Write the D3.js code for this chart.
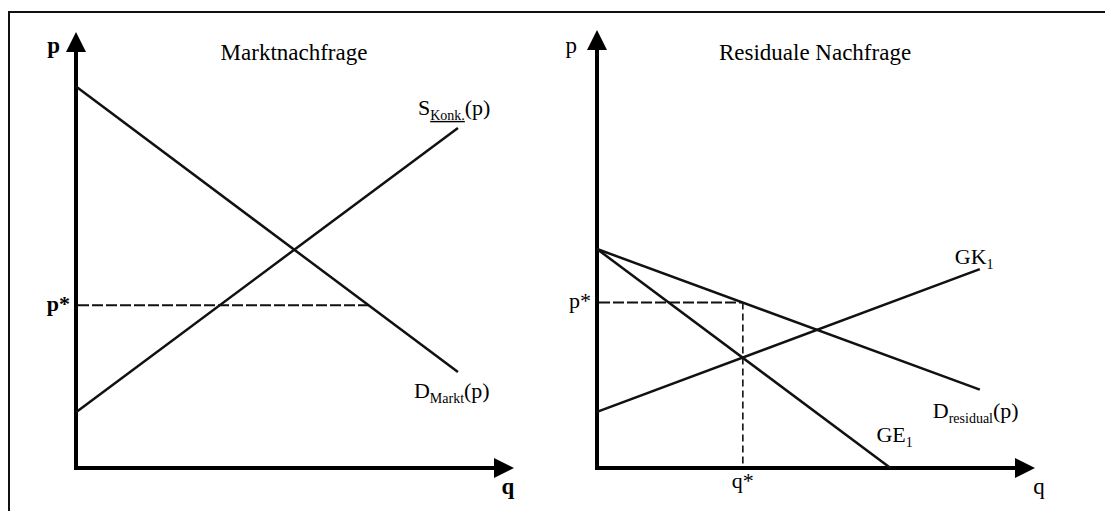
<!DOCTYPE html>
<html>
<head>
<meta charset="utf-8">
<script src="https://cdn.jsdelivr.net/npm/d3@7"></script>
<style>
  html, body { margin: 0; padding: 0; background: #fff; }
  svg { display: block; font-family: "Liberation Serif", "Times New Roman", serif; }
</style>
</head>
<body>
<div id="chart"></div>
<script>
// both panels use axis units 0..10 (q to the right, p upwards)
const marketDemand = [[0, 8.75], [8.72, 2.2]];
const competitorSupply = [[0, 1.28], [8.72, 7.8]];
const marketPStar = 3.73;

const residualDemand = [[0, 5.0], [8.74, 1.79]];
const marginalRevenue = [[0, 5.0], [6.7, 0]];
const marginalCost = [[0, 1.28], [8.74, 4.54]];
const residualQStar = 3.33;
const residualPStar = 3.78;

const titles = ['Marktnachfrage', 'Residuale Nachfrage'];

const width = 1105, height = 511;
const ink = '#111';

const svg = d3.select('#chart').append('svg')
  .attr('width', width)
  .attr('height', height);

// outer frame, only top and left edges fall inside the picture
svg.append('rect')
  .attr('x', 9).attr('y', 12)
  .attr('width', 1300).attr('height', 700)
  .attr('fill', 'none')
  .attr('stroke', ink)
  .attr('stroke-width', 2);

// x position where a straight segment reaches price p
function qAt(seg, p) {
  const [[x0, y0], [x1, y1]] = seg;
  return x0 + (p - y0) * (x1 - x0) / (y1 - y0);
}

function drawPanel(opts) {
  const x = d3.scaleLinear().domain([0, 10]).range(opts.xRange);
  const y = d3.scaleLinear().domain([0, 10]).range([468, opts.tipY]);
  const g = svg.append('g');
  const line = d3.line().x(d => x(d[0])).y(d => y(d[1]));

  // axes with filled arrow heads
  g.append('line')
    .attr('x1', x(0)).attr('x2', x(0))
    .attr('y1', y(0) + 2).attr('y2', y(10) + 18)
    .attr('stroke', '#000').attr('stroke-width', 4);
  g.append('line')
    .attr('x1', x(0) - 2).attr('x2', x(10) - 18)
    .attr('y1', y(0)).attr('y2', y(0))
    .attr('stroke', '#000').attr('stroke-width', 4);
  g.append('path')
    .attr('d', `M${x(0)},${y(10)} L${x(0) + 10},${y(10) + 20} L${x(0) - 10},${y(10) + 20} Z`)
    .attr('fill', '#000');
  g.append('path')
    .attr('d', `M${x(10)},${y(0)} L${x(10) - 20},${y(0) - 10} L${x(10) - 20},${y(0) + 10} Z`)
    .attr('fill', '#000');

  g.append('text')
    .attr('x', x(0) - opts.pGap).attr('y', 53)
    .attr('text-anchor', 'end')
    .attr('font-size', 23)
    .attr('font-weight', opts.boldAxes ? 'bold' : 'normal')
    .text('p');
  g.append('text')
    .attr('x', opts.qLabelX).attr('y', 494)
    .attr('text-anchor', 'middle')
    .attr('font-size', 23)
    .attr('font-weight', opts.boldAxes ? 'bold' : 'normal')
    .text('q');

  g.append('text')
    .attr('x', opts.titleX).attr('y', 60)
    .attr('text-anchor', 'middle')
    .attr('font-size', 23)
    .text(opts.title);

  // dashed guides
  g.append('line')
    .attr('x1', x(0) + 2).attr('x2', x(opts.dashTo))
    .attr('y1', y(opts.pStar)).attr('y2', y(opts.pStar))
    .attr('stroke', ink).attr('stroke-width', 2)
    .attr('stroke-dasharray', '11,3');
  g.append('text')
    .attr('x', x(0) - 6).attr('y', y(opts.pStar) + 6)
    .attr('text-anchor', 'end')
    .attr('font-size', 22)
    .attr('font-weight', opts.boldAxes ? 'bold' : 'normal')
    .text('p*');

  if (opts.qStar != null) {
    g.append('line')
      .attr('x1', x(opts.qStar)).attr('x2', x(opts.qStar))
      .attr('y1', y(opts.pStar)).attr('y2', y(0) - 2)
      .attr('stroke', ink).attr('stroke-width', 1.6)
      .attr('stroke-dasharray', '7,4');
    g.append('text')
      .attr('x', x(opts.qStar)).attr('y', 488)
      .attr('text-anchor', 'middle')
      .attr('font-size', 22)
      .text('q*');
  }

  opts.curves.forEach(c => {
    g.append('path')
      .attr('d', line(c.data))
      .attr('fill', 'none')
      .attr('stroke', ink)
      .attr('stroke-width', 2.5);

    const end = c.data[c.data.length - 1];
    const t = g.append('text')
      .attr('x', x(end[0]) + c.dx)
      .attr('y', y(end[1]) + c.dy)
      .attr('font-size', 22);
    t.append('tspan').text(c.main);
    t.append('tspan')
      .attr('font-size', 14)
      .attr('dy', 5)
      .attr('text-decoration', c.underline ? 'underline' : null)
      .text(c.sub);
    if (c.tail) t.append('tspan').attr('dy', -5).text(c.tail);
  });
}

drawPanel({
  title: titles[0],
  titleX: 294,
  xRange: [76, 514],
  tipY: 32,
  pGap: 16,
  qLabelX: 508,
  boldAxes: true,
  pStar: marketPStar,
  dashTo: qAt(marketDemand, marketPStar),
  curves: [
    { data: marketDemand, main: 'D', sub: 'Markt', tail: '(p)', dx: -44, dy: 26 },
    { data: competitorSupply, main: 'S', sub: 'Konk.', tail: '(p)', dx: -40, dy: -13, underline: true }
  ]
});

drawPanel({
  title: titles[1],
  titleX: 815,
  xRange: [597, 1035],
  tipY: 30,
  pGap: 20,
  qLabelX: 1039,
  boldAxes: false,
  pStar: residualPStar,
  qStar: residualQStar,
  dashTo: residualQStar,
  curves: [
    { data: residualDemand, main: 'D', sub: 'residual', tail: '(p)', dx: -47, dy: 28 },
    { data: marginalCost, main: 'GK', sub: '1', dx: -25, dy: -5 },
    { data: marginalRevenue, main: 'GE', sub: '1', dx: -14, dy: -26 }
  ]
});
</script>
</body>
</html>
